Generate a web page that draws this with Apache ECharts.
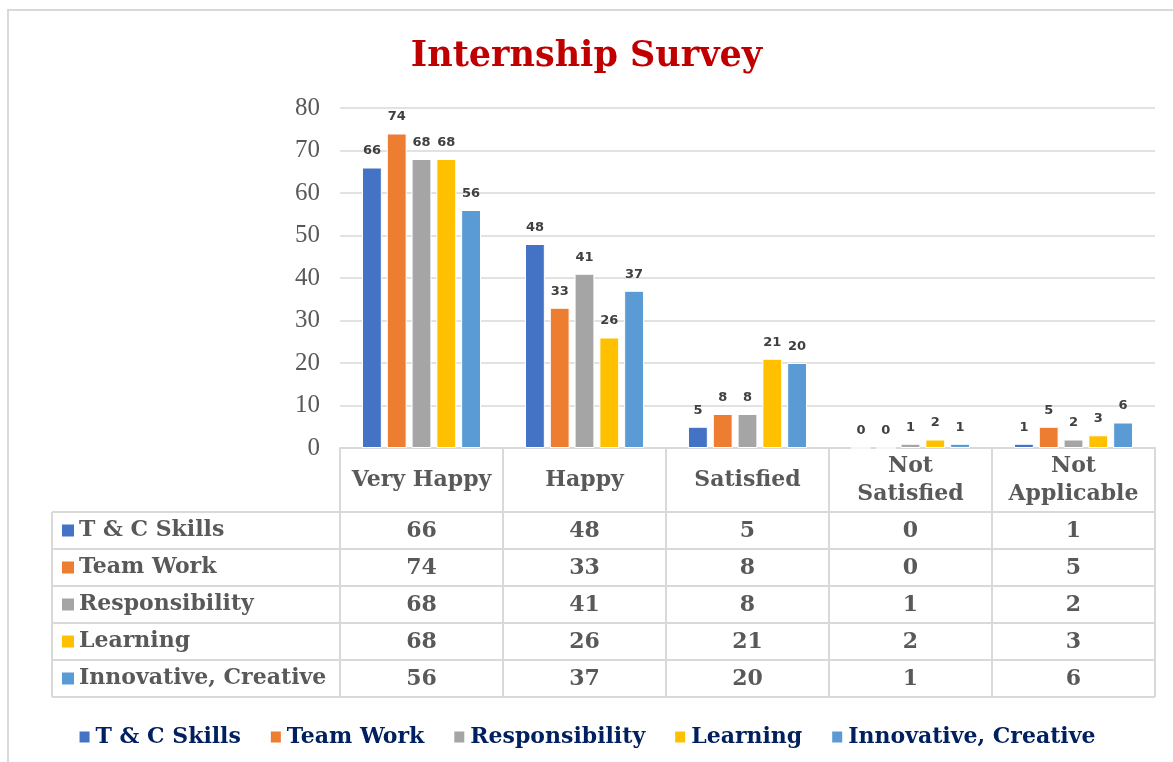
<!DOCTYPE html>
<html>
<head>
<meta charset="utf-8">
<script src="https://cdn.jsdelivr.net/npm/echarts@6/dist/echarts.min.js"></script>
<style>
html, body { margin: 0; padding: 0; background: #fff; }
#main { width: 1173px; height: 762px; }
</style>
</head>
<body>
<div id="main"></div>
<script>
// categories (x axis) and the two-line header text used in the data table
var categories = ['Very Happy', 'Happy', 'Satisfied', 'Not Satisfied', 'Not Applicable'];
var headerLabels = ['Very Happy', 'Happy', 'Satisfied', 'Not\nSatisfied', 'Not\nApplicable'];

// series
var seriesNames = ['T & C Skills', 'Team Work', 'Responsibility', 'Learning', 'Innovative, Creative'];
var tcSkills = [66, 48, 5, 0, 1];
var teamWork = [74, 33, 8, 0, 5];
var responsibility = [68, 41, 8, 1, 2];
var learning = [68, 26, 21, 2, 3];
var innovative = [56, 37, 20, 1, 6];

// y axis ticks
var yMin = 0, yMax = 80, yStep = 10;

var colors = ['#4472c4', '#ed7d31', '#a5a5a5', '#ffc000', '#5b9bd5'];
var seriesData = [tcSkills, teamWork, responsibility, learning, innovative];

var SERIF = "'DejaVu Serif', serif";
var gridLine = '#d9d9d9';
var textGray = '#595959';

var chart = echarts.init(document.getElementById('main'));

var series = seriesNames.map(function (name, i) {
  return {
    name: name,
    type: 'bar',
    data: seriesData[i],
    barGap: '25%',
    barCategoryGap: '27%',
    itemStyle: { color: colors[i], borderColor: '#fff', borderWidth: 1 },
    label: {
      show: true,
      position: 'top',
      distance: 10,
      fontFamily: "'DejaVu Sans', sans-serif",
      fontWeight: 'bold',
      fontSize: 13,
      color: '#404040'
    }
  };
});

var option = {
  backgroundColor: '#fff',
  animation: false,
  color: colors,
  title: {
    text: 'Internship Survey',
    left: 'center',
    top: 34,
    textStyle: { fontFamily: SERIF, fontWeight: 'bold', fontSize: 35, color: '#c00000' }
  },
  legend: {
    data: seriesNames,
    left: 'center',
    top: 721,
    icon: 'rect',
    itemWidth: 12,
    itemHeight: 13,
    itemGap: 28,
    textStyle: { fontFamily: SERIF, fontWeight: 'bold', fontSize: 22, color: '#002060' }
  },
  grid: { left: 340, right: 18, top: 108, bottom: 314 },
  xAxis: {
    type: 'category',
    data: categories,
    axisLine: { lineStyle: { color: gridLine, width: 2 } },
    axisTick: { show: true, interval: 0, length: 249, lineStyle: { color: gridLine, width: 2 } },
    axisLabel: {
      interval: 0,
      margin: 32,
      verticalAlign: 'middle',
      lineHeight: 28,
      fontFamily: SERIF,
      fontWeight: 'bold',
      fontSize: 22,
      color: textGray,
      formatter: function (v) { return headerLabels[categories.indexOf(v)]; }
    }
  },
  yAxis: {
    type: 'value',
    min: yMin,
    max: yMax,
    interval: yStep,
    axisLine: { show: false },
    axisTick: { show: false },
    axisLabel: { margin: 20, fontFamily: "'Liberation Serif', serif", fontSize: 25, color: textGray },
    splitLine: { lineStyle: { color: gridLine, width: 1.5 } }
  },
  series: series
};

chart.setOption(option);

// data table under the axis, columns taken from the category axis
var rowTop = 512, rowH = 37, tableLeft = 52, tableRight = 1155;
var g = [];
g.push({
  type: 'rect', silent: true, z: -10,
  shape: { x: 8, y: 10, width: 1180, height: 770 },
  style: { fill: '#fff', stroke: gridLine, lineWidth: 2 }
});
for (var r = 0; r <= seriesNames.length; r++) {
  var y = rowTop + r * rowH;
  g.push({
    type: 'line', silent: true,
    shape: { x1: tableLeft, y1: y, x2: tableRight, y2: y },
    style: { stroke: gridLine, lineWidth: 2 }
  });
}
g.push({
  type: 'line', silent: true,
  shape: { x1: tableLeft, y1: rowTop, x2: tableLeft, y2: rowTop + seriesNames.length * rowH },
  style: { stroke: gridLine, lineWidth: 2 }
});
seriesNames.forEach(function (name, i) {
  var cy = rowTop + i * rowH + rowH / 2;
  g.push({
    type: 'rect', silent: true,
    shape: { x: 62, y: cy - 6, width: 12, height: 12 },
    style: { fill: colors[i] }
  });
  g.push({
    type: 'text', silent: true,
    style: {
      x: 79, y: cy, text: name, align: 'left', verticalAlign: 'middle',
      font: 'bold 22px ' + SERIF, fill: textGray
    }
  });
  categories.forEach(function (cat, c) {
    var cx = chart.convertToPixel({ xAxisIndex: 0 }, cat);
    g.push({
      type: 'text', silent: true,
      style: {
        x: cx, y: cy + 1, text: String(seriesData[i][c]), align: 'center', verticalAlign: 'middle',
        font: 'bold 22px ' + SERIF, fill: textGray
      }
    });
  });
});

chart.setOption({ graphic: g });
</script>
</body>
</html>
